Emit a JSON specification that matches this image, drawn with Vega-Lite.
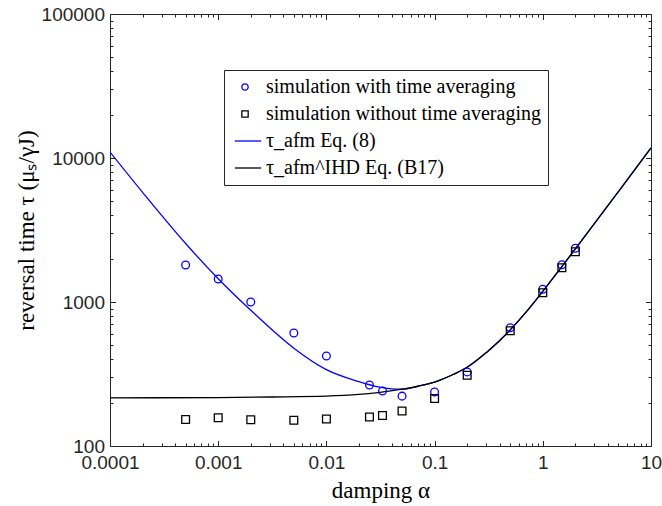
{
  "$schema": "https://vega.github.io/schema/vega-lite/v6.json",
  "width": 541,
  "height": 432,
  "autosize": {"type": "none"},
  "padding": {"left": 110, "top": 14, "right": 11, "bottom": 60},
  "config": {"view": {"stroke": null}, "background": "white"},
  "datasets": {
    "afm": [
      {"alpha": 0.0001, "tau": 11000, "series": "τ_afm Eq. (8)"},
      {"alpha": 0.0002, "tau": 5778, "series": "τ_afm Eq. (8)"},
      {"alpha": 0.0005, "tau": 2548, "series": "τ_afm Eq. (8)"},
      {"alpha": 0.001, "tau": 1451, "series": "τ_afm Eq. (8)"},
      {"alpha": 0.002, "tau": 876, "series": "τ_afm Eq. (8)"},
      {"alpha": 0.005, "tau": 478, "series": "τ_afm Eq. (8)"},
      {"alpha": 0.01, "tau": 339, "series": "τ_afm Eq. (8)"},
      {"alpha": 0.02, "tau": 279.6, "series": "τ_afm Eq. (8)"},
      {"alpha": 0.03, "tau": 257.3, "series": "τ_afm Eq. (8)"},
      {"alpha": 0.04, "tau": 249.5, "series": "τ_afm Eq. (8)"},
      {"alpha": 0.05, "tau": 248, "series": "τ_afm Eq. (8)"},
      {"alpha": 0.07, "tau": 260, "series": "τ_afm Eq. (8)"},
      {"alpha": 0.1, "tau": 278, "series": "τ_afm Eq. (8)"},
      {"alpha": 0.15, "tau": 315, "series": "τ_afm Eq. (8)"},
      {"alpha": 0.2, "tau": 352, "series": "τ_afm Eq. (8)"},
      {"alpha": 0.3, "tau": 445, "series": "τ_afm Eq. (8)"},
      {"alpha": 0.4, "tau": 540, "series": "τ_afm Eq. (8)"},
      {"alpha": 0.5, "tau": 640, "series": "τ_afm Eq. (8)"},
      {"alpha": 0.7, "tau": 850, "series": "τ_afm Eq. (8)"},
      {"alpha": 1, "tau": 1185, "series": "τ_afm Eq. (8)"},
      {"alpha": 1.5, "tau": 1760, "series": "τ_afm Eq. (8)"},
      {"alpha": 2, "tau": 2340, "series": "τ_afm Eq. (8)"},
      {"alpha": 5, "tau": 5850, "series": "τ_afm Eq. (8)"},
      {"alpha": 10, "tau": 11750, "series": "τ_afm Eq. (8)"}
    ],
    "ihd": [
      {"alpha": 0.0001, "tau": 216, "series": "τ_afm^IHD Eq. (B17)"},
      {"alpha": 0.001, "tau": 217, "series": "τ_afm^IHD Eq. (B17)"},
      {"alpha": 0.003, "tau": 219, "series": "τ_afm^IHD Eq. (B17)"},
      {"alpha": 0.01, "tau": 222, "series": "τ_afm^IHD Eq. (B17)"},
      {"alpha": 0.02, "tau": 228, "series": "τ_afm^IHD Eq. (B17)"},
      {"alpha": 0.03, "tau": 235, "series": "τ_afm^IHD Eq. (B17)"},
      {"alpha": 0.05, "tau": 248, "series": "τ_afm^IHD Eq. (B17)"},
      {"alpha": 0.07, "tau": 260, "series": "τ_afm^IHD Eq. (B17)"},
      {"alpha": 0.1, "tau": 278, "series": "τ_afm^IHD Eq. (B17)"},
      {"alpha": 0.15, "tau": 315, "series": "τ_afm^IHD Eq. (B17)"},
      {"alpha": 0.2, "tau": 352, "series": "τ_afm^IHD Eq. (B17)"},
      {"alpha": 0.3, "tau": 445, "series": "τ_afm^IHD Eq. (B17)"},
      {"alpha": 0.4, "tau": 540, "series": "τ_afm^IHD Eq. (B17)"},
      {"alpha": 0.5, "tau": 640, "series": "τ_afm^IHD Eq. (B17)"},
      {"alpha": 0.7, "tau": 850, "series": "τ_afm^IHD Eq. (B17)"},
      {"alpha": 1, "tau": 1185, "series": "τ_afm^IHD Eq. (B17)"},
      {"alpha": 1.5, "tau": 1760, "series": "τ_afm^IHD Eq. (B17)"},
      {"alpha": 2, "tau": 2340, "series": "τ_afm^IHD Eq. (B17)"},
      {"alpha": 5, "tau": 5850, "series": "τ_afm^IHD Eq. (B17)"},
      {"alpha": 10, "tau": 11750, "series": "τ_afm^IHD Eq. (B17)"}
    ],
    "points": [
      {"alpha": 0.0005, "tau": 1807, "series": "simulation with time averaging"},
      {"alpha": 0.001, "tau": 1445, "series": "simulation with time averaging"},
      {"alpha": 0.002, "tau": 1000, "series": "simulation with time averaging"},
      {"alpha": 0.005, "tau": 609, "series": "simulation with time averaging"},
      {"alpha": 0.01, "tau": 422, "series": "simulation with time averaging"},
      {"alpha": 0.025, "tau": 265, "series": "simulation with time averaging"},
      {"alpha": 0.033, "tau": 241, "series": "simulation with time averaging"},
      {"alpha": 0.05, "tau": 222, "series": "simulation with time averaging"},
      {"alpha": 0.1, "tau": 237, "series": "simulation with time averaging"},
      {"alpha": 0.2, "tau": 327, "series": "simulation with time averaging"},
      {"alpha": 0.5, "tau": 663, "series": "simulation with time averaging"},
      {"alpha": 1, "tau": 1225, "series": "simulation with time averaging"},
      {"alpha": 1.5, "tau": 1815, "series": "simulation with time averaging"},
      {"alpha": 2, "tau": 2361, "series": "simulation with time averaging"},
      {"alpha": 0.0005, "tau": 153, "series": "simulation without time averaging"},
      {"alpha": 0.001, "tau": 157, "series": "simulation without time averaging"},
      {"alpha": 0.002, "tau": 152, "series": "simulation without time averaging"},
      {"alpha": 0.005, "tau": 151, "series": "simulation without time averaging"},
      {"alpha": 0.01, "tau": 154, "series": "simulation without time averaging"},
      {"alpha": 0.025, "tau": 159, "series": "simulation without time averaging"},
      {"alpha": 0.033, "tau": 163, "series": "simulation without time averaging"},
      {"alpha": 0.05, "tau": 175, "series": "simulation without time averaging"},
      {"alpha": 0.1, "tau": 214, "series": "simulation without time averaging"},
      {"alpha": 0.2, "tau": 310, "series": "simulation without time averaging"},
      {"alpha": 0.5, "tau": 632, "series": "simulation without time averaging"},
      {"alpha": 1, "tau": 1161, "series": "simulation without time averaging"},
      {"alpha": 1.5, "tau": 1731, "series": "simulation without time averaging"},
      {"alpha": 2, "tau": 2232, "series": "simulation without time averaging"}
    ]
  },
  "resolve": {"axis": {"x": "independent", "y": "independent"}},
  "layer": [
    {
      "data": {"name": "afm"},
      "mark": {"type": "line", "strokeWidth": 1.3, "interpolate": "monotone", "clip": true},
      "encoding": {
        "x": {
          "field": "alpha", "type": "quantitative",
          "scale": {"type": "log", "domain": [0.0001, 10], "nice": false},
          "axis": {
            "orient": "bottom",
            "values": [0.0001,0.0002,0.0003,0.0004,0.0005,0.0006,0.0007,0.0008,0.0009,0.001,0.002,0.003,0.004,0.005,0.006,0.007,0.008,0.009,0.01,0.02,0.03,0.04,0.05,0.06,0.07,0.08,0.09,0.1,0.2,0.3,0.4,0.5,0.6,0.7,0.8,0.9,1,2,3,4,5,6,7,8,9,10],
            "labelExpr": "indexof([0.0001,0.001,0.01,0.1,1,10], datum.value) >= 0 ? format(datum.value, '~g') : ''",
            "labelOverlap": false, "labelFlush": false, "labelBound": false,
            "labelFont": "Liberation Sans", "labelFontSize": 19, "labelColor": "#262626",
            "labelPadding": 13,
            "tickSize": {"condition": {"test": "indexof([0.0001,0.001,0.01,0.1,1,10], datum.value) >= 0", "value": -5.5}, "value": -3},
            "tickColor": "#262626", "domainColor": "#262626", "grid": false,
            "title": "damping α", "titleFont": "Liberation Serif", "titleFontSize": 23,
            "titleFontWeight": "normal", "titleColor": "#000000", "titlePadding": 4
          }
        },
        "y": {
          "field": "tau", "type": "quantitative",
          "scale": {"type": "log", "domain": [100, 100000], "nice": false},
          "axis": {
            "orient": "left",
            "values": [100,200,300,400,500,600,700,800,900,1000,2000,3000,4000,5000,6000,7000,8000,9000,10000,20000,30000,40000,50000,60000,70000,80000,90000,100000],
            "labelExpr": "indexof([100,1000,10000,100000], datum.value) >= 0 ? format(datum.value, '~g') : ''",
            "labelOverlap": false, "labelFlush": false, "labelBound": false,
            "labelFont": "Liberation Sans", "labelFontSize": 19, "labelColor": "#262626",
            "labelPadding": 11,
            "tickSize": {"condition": {"test": "indexof([100,1000,10000,100000], datum.value) >= 0", "value": -5.5}, "value": -3},
            "tickColor": "#262626", "domainColor": "#262626", "grid": false,
            "title": "reversal time τ (μₛ/γJ)", "titleFont": "Liberation Serif", "titleFontSize": 23,
            "titleFontWeight": "normal", "titleColor": "#000000", "titlePadding": 3
          }
        },
        "color": {
          "field": "series", "type": "nominal",
          "scale": {"domain": ["simulation with time averaging", "simulation without time averaging", "τ_afm Eq. (8)", "τ_afm^IHD Eq. (B17)"], "range": ["#0000ff", "#000000", "#0000ff", "#000000"]},
          "legend": {"title": null, "orient": "none", "legendX": 114, "legendY": 56, "labelFont": "Liberation Serif", "labelFontSize": 20, "labelColor": "#000000", "labelLimit": 400, "symbolSize": 40, "symbolStrokeWidth": 1.3, "strokeColor": "#262626", "fillColor": "white", "padding": 7, "rowPadding": 7, "symbolOffset": 4, "labelOffset": 11}
        }
      }
    },
    {
      "data": {"name": "ihd"},
      "mark": {"type": "line", "strokeWidth": 1.3, "interpolate": "monotone", "clip": true},
      "encoding": {
        "x": {"field": "alpha", "type": "quantitative", "axis": null},
        "y": {"field": "tau", "type": "quantitative", "axis": null},
        "color": {"field": "series", "type": "nominal"}
      }
    },
    {
      "data": {"name": "points"},
      "mark": {"type": "point", "filled": false, "size": 60, "strokeWidth": 1.3, "opacity": 1},
      "encoding": {
        "x": {
          "field": "alpha", "type": "quantitative",
          "axis": {
            "orient": "top", "labels": false, "title": null, "grid": false,
            "values": [0.0001,0.0002,0.0003,0.0004,0.0005,0.0006,0.0007,0.0008,0.0009,0.001,0.002,0.003,0.004,0.005,0.006,0.007,0.008,0.009,0.01,0.02,0.03,0.04,0.05,0.06,0.07,0.08,0.09,0.1,0.2,0.3,0.4,0.5,0.6,0.7,0.8,0.9,1,2,3,4,5,6,7,8,9,10],
            "tickSize": {"condition": {"test": "indexof([0.0001,0.001,0.01,0.1,1,10], datum.value) >= 0", "value": -5.5}, "value": -3},
            "tickColor": "#262626", "domainColor": "#262626"
          }
        },
        "y": {
          "field": "tau", "type": "quantitative",
          "axis": {
            "orient": "right", "labels": false, "title": null, "grid": false,
            "values": [100,200,300,400,500,600,700,800,900,1000,2000,3000,4000,5000,6000,7000,8000,9000,10000,20000,30000,40000,50000,60000,70000,80000,90000,100000],
            "tickSize": {"condition": {"test": "indexof([100,1000,10000,100000], datum.value) >= 0", "value": -5.5}, "value": -3},
            "tickColor": "#262626", "domainColor": "#262626"
          }
        },
        "color": {"field": "series", "type": "nominal"},
        "shape": {
          "field": "series", "type": "nominal",
          "scale": {"domain": ["simulation with time averaging", "simulation without time averaging", "τ_afm Eq. (8)", "τ_afm^IHD Eq. (B17)"], "range": ["circle", "square", "M-3.2,0H5.1", "M-3.2,0H5.1"]},
          "legend": {"title": null, "orient": "none", "legendX": 114, "legendY": 56, "labelFont": "Liberation Serif", "labelFontSize": 20, "labelColor": "#000000", "labelLimit": 400, "symbolSize": 40, "symbolStrokeWidth": 1.3, "strokeColor": "#262626", "fillColor": "white", "padding": 7, "rowPadding": 7, "symbolOffset": 4, "labelOffset": 11}
        }
      }
    }
  ]
}
